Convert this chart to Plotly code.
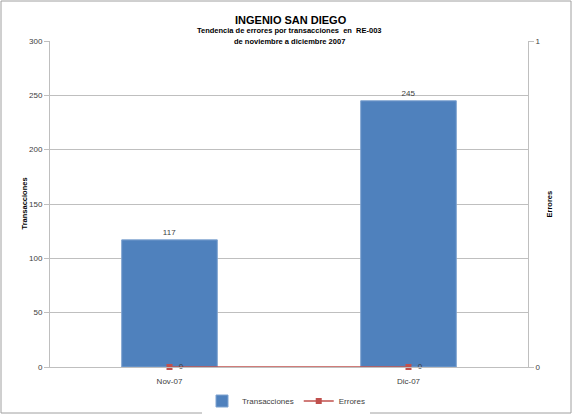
import plotly.graph_objects as go

categories = ["Nov-07", "Dic-07"]
transacciones = [117, 245]
errores = [0, 0]

W, H = 572, 415
L, R, T, B = 50, 44, 41, 48
pw, ph = W - L - R, H - T - B

def px(x):
    return (x - L) / pw

def py(y):
    return (H - B - y) / ph

FONT = "Liberation Sans Narrow, Liberation Sans, Arial"

fig = go.Figure()
fig.add_trace(go.Bar(
    x=categories, y=transacciones, name="Transacciones",
    marker=dict(color="#4F81BD", line=dict(color="#7FA3D0", width=1)),
    text=[str(v) for v in transacciones], textposition="outside",
    textfont=dict(family="Liberation Sans", size=8, color="#404040"),
    cliponaxis=False, width=0.4,
))
fig.add_trace(go.Scatter(
    x=categories, y=errores, name="Errores", yaxis="y2",
    mode="lines+markers+text",
    line=dict(color="#C0504D", width=1.5),
    marker=dict(symbol="square", size=6, color="#C0504D"),
    text=["  " + str(v) for v in errores], textposition="middle right",
    textfont=dict(family="Liberation Sans", size=8, color="#404040"),
    cliponaxis=False,
))

fig.update_layout(
    width=W, height=H,
    margin=dict(l=L, r=R, t=T, b=B, autoexpand=False),
    paper_bgcolor="white", plot_bgcolor="white",
    showlegend=True,
    legend=dict(orientation="h", x=px(286), xanchor="center", y=py(401), yanchor="middle",
                itemwidth=30, tracegroupgap=0,
                font=dict(family="Liberation Sans", size=8, color="#404040")),
    xaxis=dict(showline=True, linecolor="#BFBFBF", linewidth=1, ticks="", ticklabelstandoff=6,
               tickfont=dict(family="Liberation Sans", size=8, color="#404040")),
    yaxis=dict(range=[0, 300], dtick=50, showgrid=True, gridcolor="#BFBFBF",
               showline=True, linecolor="#BFBFBF", ticks="outside", ticklen=5, tickcolor="#BFBFBF",
               zeroline=False, automargin=False,
               tickfont=dict(family="Liberation Sans", size=8, color="#404040")),
    yaxis2=dict(range=[0, 1], tickvals=[0, 1], overlaying="y", side="right", showgrid=False,
                showline=True, linecolor="#BFBFBF", ticks="outside", ticklen=5, tickcolor="#BFBFBF",
                zeroline=False, automargin=False,
                tickfont=dict(family="Liberation Sans", size=8, color="#404040")),
    shapes=[dict(type="rect", xref="paper", yref="paper",
                 x0=px(1), x1=px(571), y0=py(413), y1=py(1),
                 line=dict(color="#A0A0A0", width=1), layer="below")],
    annotations=[
        dict(text="<b>INGENIO SAN DIEGO</b>", xref="paper", yref="paper", x=px(291), y=py(12),
             showarrow=False, font=dict(family=FONT, size=11, color="black")),
        dict(text="<b>Tendencia de errores por transacciones  en  RE-003</b>", xref="paper", yref="paper",
             x=px(289), y=py(24), showarrow=False,
             font=dict(family=FONT, size=7.5, color="black")),
        dict(text="<b>de noviembre a diciembre 2007</b>", xref="paper", yref="paper",
             x=px(289), y=py(35), showarrow=False,
             font=dict(family=FONT, size=7.5, color="black")),
        dict(text="<b>Transacciones</b>", xref="paper", yref="paper", x=px(17), y=py(204),
             textangle=-90, showarrow=False, font=dict(family=FONT, size=7.5, color="black")),
        dict(text="<b>Errores</b>", xref="paper", yref="paper", x=px(555), y=py(204),
             textangle=-90, showarrow=False, font=dict(family=FONT, size=7.5, color="black")),
    ],
)

fig.write_html("out.html", config={"displayModeBar": False},
               post_script="document.body.style.margin='0';document.body.style.padding='0';document.body.style.overflow='hidden';")
